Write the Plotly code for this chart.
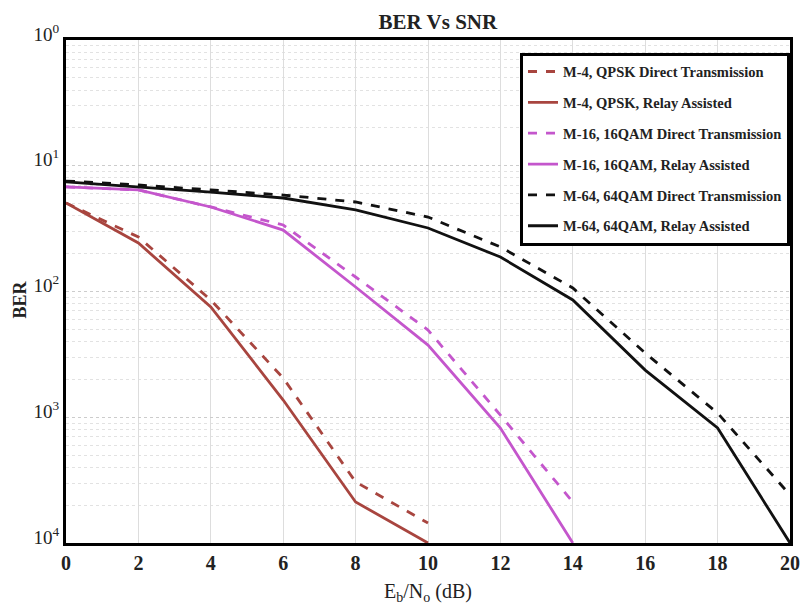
import plotly.graph_objects as go

snr = [0, 2, 4, 6, 8, 10, 12, 14, 16, 18, 20]

qpsk_direct = [0.0506, 0.0271, 0.00856, 0.00205, 0.000306, 0.000144]
qpsk_relay = [0.0506, 0.0243, 0.00753, 0.00137, 0.000212, 0.0001]
qam16_direct = [0.0678, 0.0642, 0.0470, 0.0338, 0.01304, 0.00494, 0.00104, 0.000212]
qam16_relay = [0.0678, 0.0642, 0.0470, 0.0308, 0.01086, 0.00375, 0.000821, 0.0001]
qam64_direct = [0.0756, 0.0703, 0.0642, 0.0585, 0.0515, 0.0391, 0.0226, 0.01066, 0.00324, 0.00108, 0.000241]
qam64_relay = [0.0743, 0.0678, 0.0618, 0.0554, 0.0445, 0.0320, 0.0188, 0.00856, 0.00237, 0.000821, 0.0001]

names = [
    "M-4, QPSK Direct Transmission",
    "M-4, QPSK, Relay Assisted",
    "M-16, 16QAM Direct Transmission",
    "M-16, 16QAM, Relay Assisted",
    "M-64, 64QAM Direct Transmission",
    "M-64, 64QAM, Relay Assisted",
]
series = [qpsk_direct, qpsk_relay, qam16_direct, qam16_relay, qam64_direct, qam64_relay]
colors = ["#a8453f", "#a8453f", "#c456cc", "#c456cc", "#111111", "#111111"]
dashes = ["dash", "solid", "dash", "solid", "dash", "solid"]

y_tickvals = [1, 0.1, 0.01, 0.001, 0.0001]
y_ticktext = ["10<sup>0</sup>", "10<sup>1</sup>", "10<sup>2</sup>", "10<sup>3</sup>", "10<sup>4</sup>"]
x_tickvals = [0, 2, 4, 6, 8, 10, 12, 14, 16, 18, 20]

fig = go.Figure()
for i, (name, vals, c, d) in enumerate(zip(names, series, colors, dashes)):
    fig.add_trace(go.Scatter(
        x=snr[:len(vals)], y=vals, name=name, mode="lines",
        legendgroup=f"g{i}",
        line=dict(color=c, width=2.8, dash=d),
    ))

serif = "Liberation Serif"
# page body has an 8px margin, so the figure is sized/offset to compensate
fig.update_layout(
    width=802, height=598,
    margin=dict(l=58, r=10, t=32, b=63),
    paper_bgcolor="white", plot_bgcolor="white",
    title=dict(text="<b>BER Vs SNR</b>", x=0.536, xanchor="center", y=0.9766, yanchor="middle",
               font=dict(family=serif, size=21, color="#222")),
    font=dict(family=serif, color="#222"),
    legend=dict(x=1.0, xanchor="right", y=0.975, yanchor="top",
                bgcolor="white", bordercolor="black", borderwidth=3,
                font=dict(family=serif, size=14.5, color="#222", weight="bold"),
                traceorder="grouped", tracegroupgap=9, itemwidth=30),
    showlegend=True,
    annotations=[
        dict(text="E<sub>b</sub>/N<sub>o</sub> (dB)", xref="paper", yref="paper", x=0.5, y=0,
             xanchor="center", yanchor="middle", yshift=-49, showarrow=False,
             font=dict(family=serif, size=20, color="#222")),
        dict(text="<b>BER</b>", xref="paper", yref="paper", x=0, y=0.5, textangle=-90,
             xanchor="center", yanchor="middle", xshift=-47, yshift=-8, showarrow=False,
             font=dict(family=serif, size=18, color="#222")),
    ],
)
fig.update_xaxes(
    range=[0, 20], tickvals=x_tickvals,
    tickfont=dict(family=serif, size=20, weight="bold"),
    showgrid=True, gridcolor="#dddddd", gridwidth=1,
    showline=True, linecolor="black", linewidth=3, mirror=True,
    ticks="", zeroline=False,
)
fig.update_yaxes(
    type="log", range=[-4, 0], tickvals=y_tickvals, ticktext=y_ticktext,
    tickfont=dict(family=serif, size=19),
    ticklabelshift=-6,
    showgrid=True, gridcolor="#cccccc", gridwidth=1, griddash="dot",
    minor=dict(showgrid=True, gridcolor="#e2e2e2", griddash="dot", gridwidth=1,
               tickvals=[v * m for v in [0.0001, 0.001, 0.01, 0.1] for m in [2, 3, 4, 5, 6, 7, 8, 9]]),
    showline=True, linecolor="black", linewidth=3, mirror=True,
    ticks="", zeroline=False,
)

fig.write_html("out.html")
